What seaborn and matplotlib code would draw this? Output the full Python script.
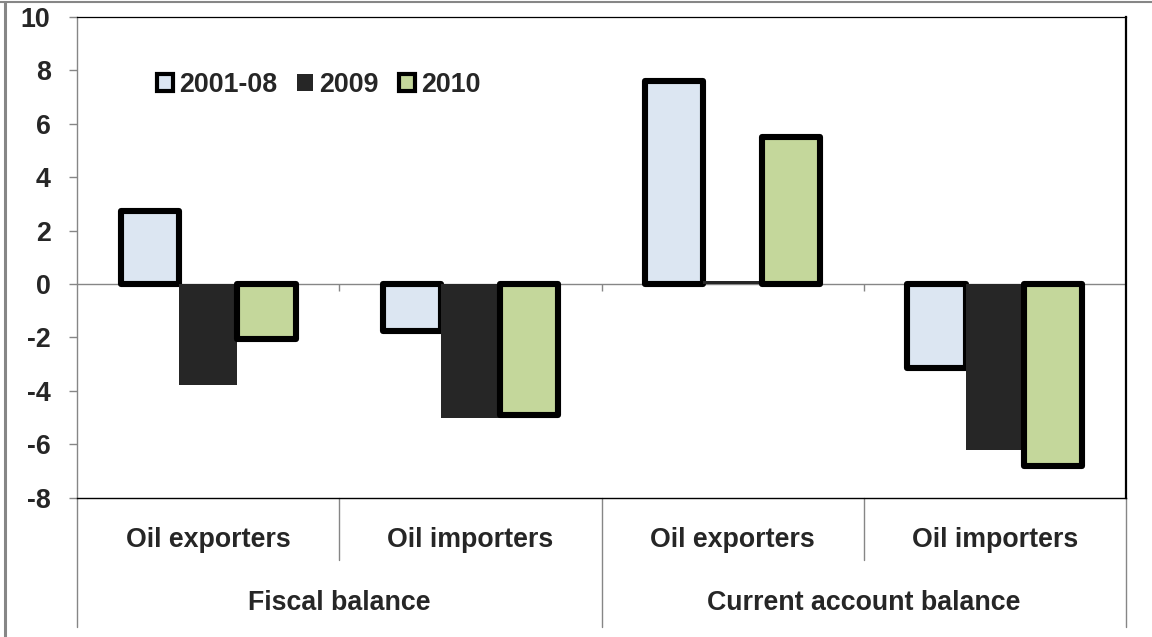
import matplotlib
matplotlib.use("Agg")
import matplotlib.pyplot as plt
import seaborn as sns
import pandas as pd
from matplotlib.patches import Patch
from matplotlib.lines import Line2D

# ---- data ----
groups = ["Fiscal balance", "Current account balance"]
categories = ["Oil exporters", "Oil importers", "Oil exporters", "Oil importers"]
series = ["2001-08", "2009", "2010"]
v_2001_08 = [2.75, -1.75, 7.6, -3.15]
v_2009 = [-3.8, -5.0, 0.1, -6.2]
v_2010 = [-2.05, -4.9, 5.5, -6.8]
yticks = [-8, -6, -4, -2, 0, 2, 4, 6, 8, 10]

colors = {"2001-08": "#DCE6F2", "2009": "#262626", "2010": "#C4D79B"}
GREY = "#868686"

group_of = [groups[0], groups[0], groups[1], groups[1]]
keys = [f"{g}|{c}" for g, c in zip(group_of, categories)]
rows = []
for s, vals in zip(series, [v_2001_08, v_2009, v_2010]):
    for k, v in zip(keys, vals):
        rows.append({"key": k, "series": s, "value": v})
df = pd.DataFrame(rows)

sns.set_theme(style="white")
plt.rcParams["font.family"] = ["Liberation Sans", "DejaVu Sans"]
plt.rcParams["font.weight"] = "bold"
FS = 19.3

fig = plt.figure(figsize=(11.52, 6.37), dpi=100)
W, H = 1152, 637
left, right, top, bottom = 77, 1126, 17, 497.6
ax = fig.add_axes([left / W, 1 - bottom / H, (right - left) / W, (bottom - top) / H])

sns.barplot(data=df, x="key", y="value", hue="series", order=keys,
            hue_order=series, palette=colors, width=0.667, ax=ax,
            legend=False, errorbar=None, saturation=1)

for cont, s in zip(ax.containers, series):
    for bar in cont:
        if s == "2009":
            bar.set_edgecolor(colors[s])
            bar.set_linewidth(0)
        else:
            bar.set_edgecolor("black")
            bar.set_linewidth(4.4)
            bar.set_joinstyle("round")

ax.set_xlim(-0.5, 3.5)
ax.set_ylim(-8, 10)
ax.set_yticks(yticks)
ax.set_yticklabels([str(t) for t in yticks], fontsize=FS, fontweight="bold")
ax.set_xticks([])
ax.set_xlabel("")
ax.set_ylabel("")
ax.tick_params(axis="y", direction="out", length=6, width=1, color=GREY,
               pad=13, left=True)

for sp in ["top", "right", "bottom"]:
    ax.spines[sp].set_color("black")
ax.spines["top"].set_linewidth(0.9)
ax.spines["right"].set_linewidth(1.6)
ax.spines["bottom"].set_linewidth(1.0)
ax.spines["left"].set_color(GREY)
ax.spines["left"].set_linewidth(1.0)

ax.axhline(0, color=GREY, lw=1, zorder=0.8)
ax.vlines([0.5, 1.5, 2.5], -0.28, 0, color=GREY, lw=1, zorder=0.8)

# multi-level category axis
trans = ax.get_xaxis_transform()
for i, c in enumerate(categories):
    ax.text(i, -0.088, c, transform=trans, ha="center", va="center",
            fontsize=FS, fontweight="bold")
for j, g in enumerate(groups):
    ax.text(0.5 + 2 * j, -0.22, g, transform=trans, ha="center", va="center",
            fontsize=FS, fontweight="bold")
for x in [-0.5, 1.5, 3.5]:
    ax.plot([x, x], [0, -0.27], transform=trans, clip_on=False, color=GREY, lw=1)
for x in [0.5, 2.5]:
    ax.plot([x, x], [0, -0.13], transform=trans, clip_on=False, color=GREY, lw=1)

# legend
handles = []
for s in series:
    if s == "2009":
        handles.append(Patch(facecolor=colors[s], edgecolor=colors[s], lw=0))
    else:
        handles.append(Patch(facecolor=colors[s], edgecolor="black", lw=3))
leg = fig.legend(handles, series, loc="center left",
                 bbox_to_anchor=(157 / W, 1 - 85 / H), ncol=3, frameon=False,
                 borderpad=0, borderaxespad=0, handlelength=0.6,
                 handleheight=0.6, handletextpad=0.22, columnspacing=0.75,
                 prop={"size": FS, "weight": "bold"})

# outer chart border
fig.add_artist(Line2D([0, 1], [1 - 2 / H] * 2, transform=fig.transFigure,
                      color=GREY, lw=1.5))
fig.add_artist(Line2D([5 / W] * 2, [0, 1 - 2 / H], transform=fig.transFigure,
                      color=GREY, lw=2.2))

fig.savefig("out.png", dpi=100)
